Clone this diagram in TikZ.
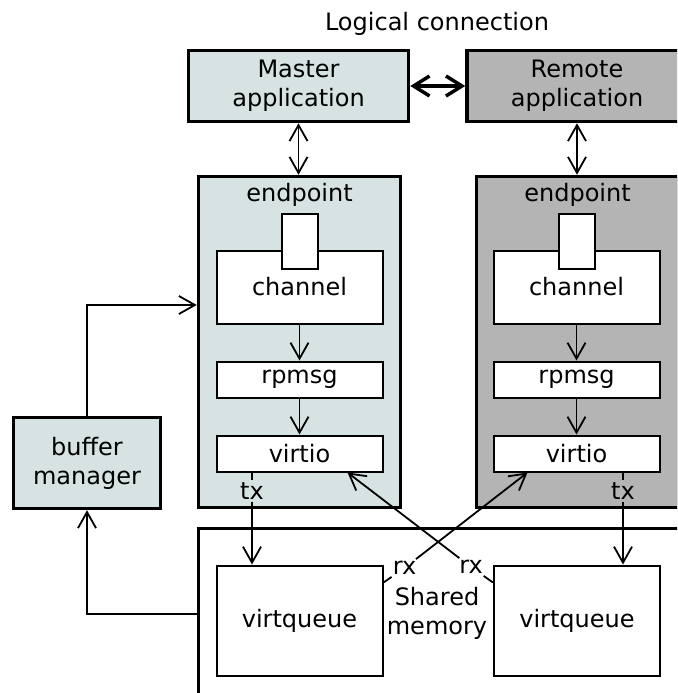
\documentclass[tikz,border=0pt]{standalone}
\usepackage{fontspec}
\setmainfont{DejaVu Sans}
\usetikzlibrary{arrows.meta,positioning,calc}
\definecolor{mastercol}{RGB}{215,227,227}
\definecolor{remotecol}{RGB}{180,180,180}
\begin{document}
\begin{tikzpicture}[x=1pt, y=-1pt, font=\fontsize{24}{29}\selectfont,
    >={Straight Barb[length=16pt,width=18pt]},
    bigbox/.style={draw, line width=3.5pt, align=center, inner sep=0pt},
    smallbox/.style={draw, fill=white, line width=2pt, minimum width=166pt, inner sep=0pt},
    link/.style={line width=1.8pt},
    lbl/.style={inner sep=2pt}]
\useasboundingbox (0,0) rectangle (677,693);
\clip (0,0) rectangle (677,693);

% applications
\node (logic) at (437,24) {Logical connection};
\node[bigbox, fill=mastercol, minimum width=220pt, minimum height=71pt] (mapp) at (298.5,86) {Master\\application};
\node[bigbox, fill=remotecol, minimum width=220pt, minimum height=71pt] (rapp) at (577,86) {Remote\\application};
\draw[line width=3.5pt, {Straight Barb[length=16pt,width=20pt]}-{Straight Barb[length=16pt,width=20pt]}] (mapp) -- (rapp);

% endpoints
\node[bigbox, fill=mastercol, minimum width=202pt, minimum height=331pt] (mep) at (299.5,342) {};
\node[bigbox, fill=remotecol, minimum width=202pt, minimum height=331pt] (rep) at (577.5,342) {};
\node[below=5pt] (mept) at (mep.north) {endpoint};
\node[below=5pt] (rept) at (rep.north) {endpoint};
\draw[link,<->] (mapp.south) -- (mapp.south |- mep.north);
\draw[link,<->] (rapp.south) -- (rapp.south |- rep.north);

\foreach \side/\x in {m/299.5, r/576.5}
{
    \node[smallbox, minimum height=73pt] (\side chan) at (\x,287) {channel};
    \node[draw, fill=white, line width=2pt, minimum width=36pt, minimum height=55pt] (\side port) at (\x,241) {};
    \node[smallbox, minimum height=36pt] (\side rpmsg) at (\x,379.5) {rpmsg};
    \node[smallbox, minimum height=36pt] (\side virtio) at (\x,453.5) {virtio};
    \draw[link,->] (\side chan) -- (\side rpmsg);
    \draw[link,->] (\side rpmsg) -- (\side virtio);
}

% shared memory
\node[bigbox, fill=white, minimum width=482pt, minimum height=171pt] (shm) at (439.5,614) {};
\node[align=center] (shmt) at (437,613) {Shared\\memory};
\node[smallbox, minimum height=110pt] (mvq) at (299.5,620.5) {virtqueue};
\node[smallbox, minimum height=110pt] (rvq) at (577,620.5) {virtqueue};

% tx / rx
\node[lbl] (mtx) at (252,491) {tx};
\node[lbl] (rtx) at (623,491) {tx};
\draw[link] (mvirtio.south -| mtx) -- (mtx);
\draw[link,->] (mtx) -- (mtx |- mvq.north);
\draw[link] (rvirtio.south -| rtx) -- (rtx);
\draw[link,->] (rtx) -- (rtx |- rvq.north);

\node[lbl] (rxl) at (404.5,568) {rx};
\node[lbl] (rxr) at (471,567) {rx};
\draw[link] ($(mvq.north east)+(0,18)$) -- (rxl);
\draw[link,->] (rxl) -- ($(rvirtio.south west)+(35,0)$);
\draw[link] ($(rvq.north west)+(0,18)$) -- (rxr);
\draw[link,->] (rxr) -- ($(mvirtio.south east)+(-36,0)$);

% buffer manager
\node[bigbox, fill=mastercol, minimum width=147pt, minimum height=91pt] (buf) at (87,463) {buffer\\manager};
\coordinate (bufin) at (mep.west |- 0,305);
\draw[link,->] (buf.north) |- (bufin);
\draw[link,->] (shm.west) -| (buf.south);
\end{tikzpicture}
\end{document}
